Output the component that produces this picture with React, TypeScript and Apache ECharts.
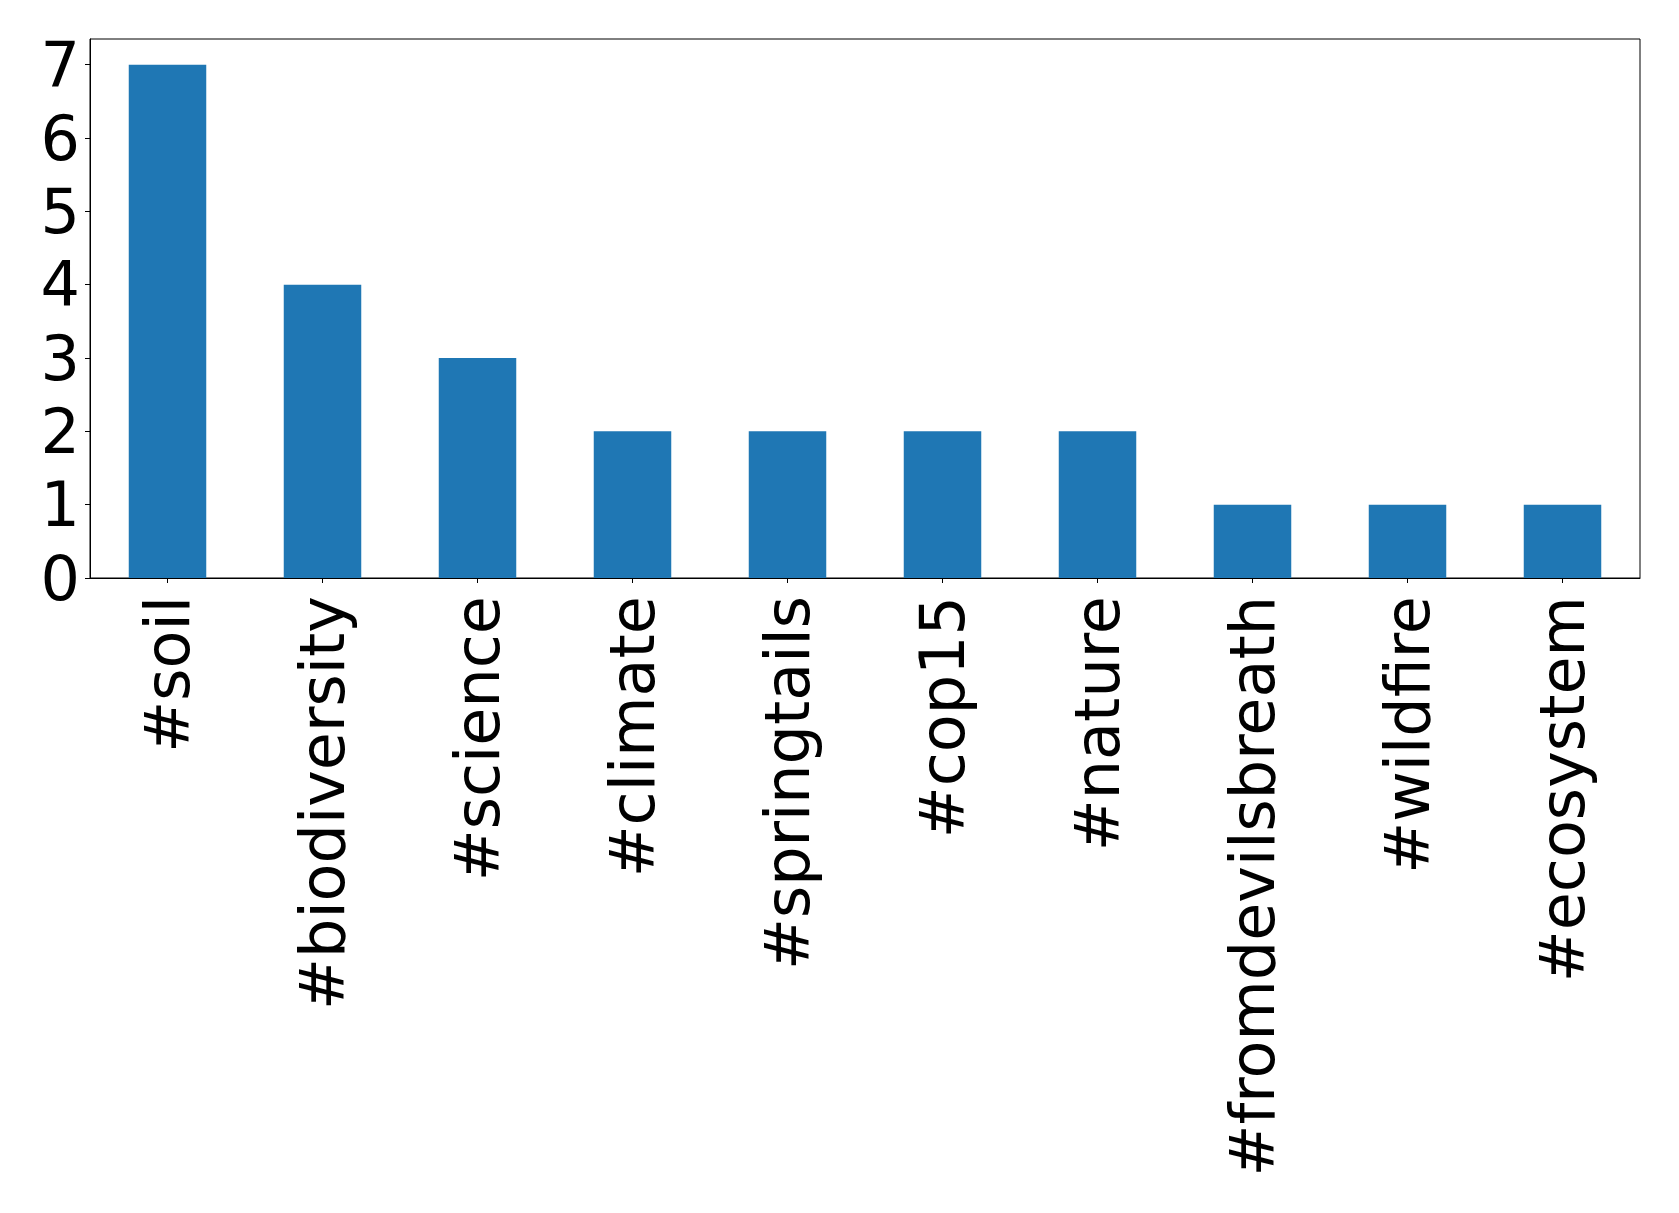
import React, { useEffect, useRef } from "react";
import * as echarts from "echarts";

const categories = [
  "#soil",
  "#biodiversity",
  "#science",
  "#climate",
  "#springtails",
  "#cop15",
  "#nature",
  "#fromdevilsbreath",
  "#wildfire",
  "#ecosystem",
];
const counts = [7, 4, 3, 2, 2, 2, 2, 1, 1, 1];
const yTicks = [0, 1, 2, 3, 4, 5, 6, 7];

export default function App() {
  const ref = useRef<HTMLDivElement>(null);
  useEffect(() => {
    if (!ref.current) return;
    const chart = echarts.init(ref.current, null, { renderer: "svg" });
    const font = "DejaVu Sans";
    chart.setOption({
      animation: false,
      backgroundColor: "#ffffff",
      grid: {
        left: 90,
        right: 39,
        top: 39,
        bottom: 635,
        show: true,
        borderColor: "#000000",
        borderWidth: 1,
        backgroundColor: "transparent",
      },
      xAxis: {
        type: "category",
        data: categories,
        boundaryGap: true,
        axisLine: { show: true, lineStyle: { color: "#000000", width: 1 } },
        axisTick: {
          show: true,
          alignWithLabel: true,
          length: 5,
          lineStyle: { color: "#000000", width: 1 },
        },
        axisLabel: {
          rotate: 90,
          interval: 0,
          margin: 18,
          fontSize: 62,
          fontFamily: font,
          color: "#000000",
        },
        splitLine: { show: false },
      },
      yAxis: {
        type: "value",
        min: 0,
        max: 7.35,
        interval: 1,
        axisLine: { show: true, lineStyle: { color: "#000000", width: 1 } },
        axisTick: {
          show: true,
          length: 5,
          customValues: yTicks,
          lineStyle: { color: "#000000", width: 1 },
        },
        axisLabel: {
          margin: 10,
          fontSize: 62,
          fontFamily: font,
          color: "#000000",
          customValues: yTicks,
          formatter: (v: number) => (Number.isInteger(v) ? String(v) : ""),
        },
        splitLine: { show: false },
      },
      series: [
        {
          type: "bar",
          data: counts,
          barWidth: "50%",
          itemStyle: { color: "#1f77b4" },
        },
      ],
    });
    return () => chart.dispose();
  }, []);
  return (
    <div
      ref={ref}
      style={{ position: "absolute", left: 0, top: 0, width: 1679, height: 1213 }}
    />
  );
}
